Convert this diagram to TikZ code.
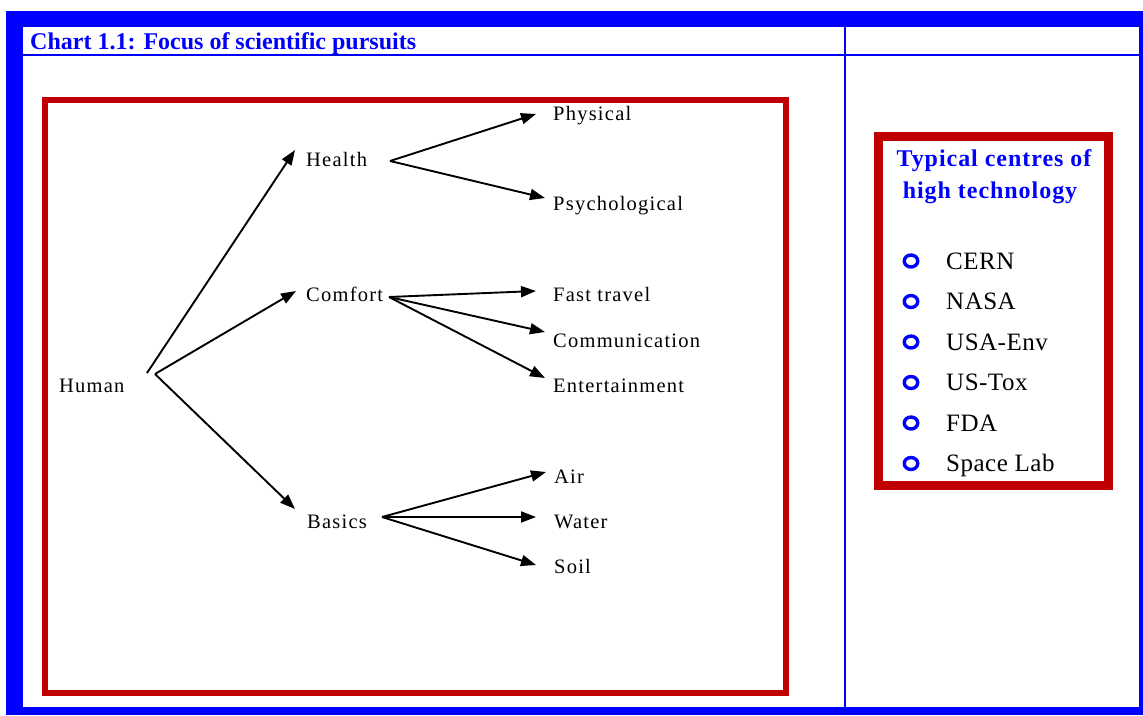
\documentclass[tikz,border=0pt]{standalone}
\usepackage{fontspec}
\setmainfont{Liberation Serif}
\newfontfamily\labelfont[LetterSpace=6]{Liberation Serif}
\newfontfamily\listfont[LetterSpace=2]{Liberation Serif}
\newfontfamily\headfont[LetterSpace=4]{Liberation Serif}
\usetikzlibrary{arrows.meta,shapes.geometric}
\definecolor{frameblue}{RGB}{0,0,255}
\definecolor{boxred}{RGB}{192,0,0}

\begin{document}
\begin{tikzpicture}[x=1pt,y=-1pt,
  lbl/.style={anchor=base west,inner sep=0pt,text=black,
    font=\labelfont\fontsize{20.5}{24}\selectfont},
  item/.style={anchor=base west,inner sep=0pt,text=black,
    font=\listfont\fontsize{25}{28}\selectfont},
  bullet/.style={draw=frameblue,line width=3.4pt,ellipse,minimum width=13.5pt,
    minimum height=12pt,inner sep=0pt},
  arr/.style={line width=1.9pt,-{Triangle[length=15pt,width=11pt]}},
  redbox/.style={draw=boxred},
]
\useasboundingbox (0,0) rectangle (1143,715);

% table frame
\fill[frameblue] (6,11) rectangle (1143,715);
\fill[white] (23,27) rectangle (1139,707);
\fill[frameblue] (23,54) rectangle (1139,56);
\fill[frameblue] (844,27) rectangle (846,707);

\node[anchor=base west,inner sep=0pt,text=frameblue,
  font=\bfseries\fontsize{24}{28}\selectfont] (caption) at (30,49)
  {Chart 1.1: Focus of scientific pursuits};

% diagram panel
\draw[redbox,line width=6pt] (45,99.5) rectangle (786,693);

\node[lbl] (human) at (59,392) {Human};
\node[lbl] (health) at (306,166) {Health};
\node[lbl] (comfort) at (306,301) {Comfort};
\node[lbl] (basics) at (307,528) {Basics};
\node[lbl] (physical) at (553,120) {Physical};
\node[lbl] (psych) at (553,210) {Psychological};
\node[lbl] (fast) at (553,301) {Fast travel};
\node[lbl] (comm) at (553,347) {Communication};
\node[lbl] (ent) at (553,392) {Entertainment};
\node[lbl] (air) at (554,483) {Air};
\node[lbl] (water) at (554,528) {Water};
\node[lbl] (soil) at (554,573) {Soil};

% fan points and arrow tips
\coordinate (humanA) at (147,373);
\coordinate (humanB) at (155,374);
\coordinate (healthHub) at (390,161);
\coordinate (comfortHub) at (389,297);
\coordinate (basicsHub) at (382,517);

\coordinate (toHealth) at (295,150);
\coordinate (toComfort) at (296,291);
\coordinate (toBasics) at (295,509);
\coordinate (toPhysical) at (536,114);
\coordinate (toPsych) at (545,198);
\coordinate (toFast) at (536,291);
\coordinate (toComm) at (545,332);
\coordinate (toEnt) at (545,378);
\coordinate (toAir) at (546,472);
\coordinate (toWater) at (536,517);
\coordinate (toSoil) at (536,565);

\draw[arr] (humanA) -- (toHealth);
\draw[arr] (humanB) -- (toComfort);
\draw[arr] (humanB) -- (toBasics);
\draw[arr] (healthHub) -- (toPhysical);
\draw[arr] (healthHub) -- (toPsych);
\draw[arr] (comfortHub) -- (toFast);
\draw[arr] (comfortHub) -- (toComm);
\draw[arr] (comfortHub) -- (toEnt);
\draw[arr] (basicsHub) -- (toAir);
\draw[arr] (basicsHub) -- (toWater);
\draw[arr] (basicsHub) -- (toSoil);

% side panel
\draw[redbox,line width=9pt] (878.5,136.5) rectangle (1108,485);
\node[anchor=base,inner sep=0pt,text=frameblue,
  font=\headfont\bfseries\fontsize{24}{28}\selectfont] (side1) at (994,166.5)
  {Typical centres of};
\node[anchor=base,inner sep=0pt,text=frameblue,
  font=\headfont\bfseries\fontsize{24}{28}\selectfont] (side2) at (990,198)
  {high technology};

\foreach \t [count=\i] in {CERN,NASA,USA-Env,US-Tox,FDA,Space Lab} {
  \node[bullet] (dot\i) at (911,{261+40.5*(\i-1)}) {};
  \node[item] (centre\i) at (946,{269+40.5*(\i-1)}) {\t};
}
\end{tikzpicture}
\end{document}
